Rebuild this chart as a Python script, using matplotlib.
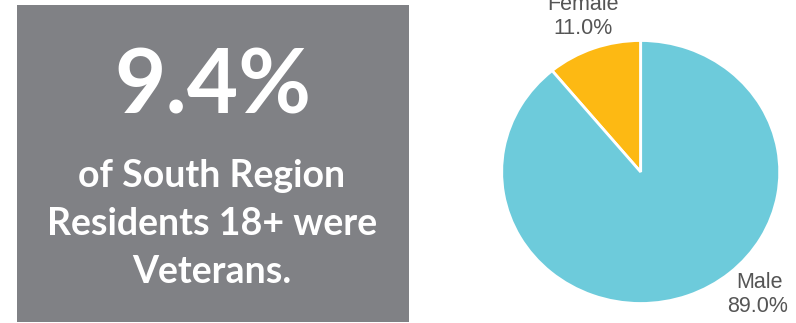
import matplotlib
matplotlib.use("Agg")
import matplotlib.pyplot as plt
from matplotlib.patches import Rectangle

# Data
big_stat = "9.4%"
stat_lines = ["of South Region", "Residents 18+ were", "Veterans."]
categories = ["Female", "Male"]
shares = [11.0, 89.0]
colors = ["#FDB913", "#6DCBDB"]

W, H = 796, 323
fig = plt.figure(figsize=(W / 100, H / 100), dpi=100)
fig.patch.set_facecolor("white")

# Left gray panel
bg = fig.add_axes([0, 0, 1, 1])
bg.set_xlim(0, W)
bg.set_ylim(H, 0)
bg.axis("off")
bg.add_patch(Rectangle((17, 5), 392, 317, facecolor="#808185", edgecolor="none"))
bg.text(213, 88, big_stat, ha="center", va="center", color="white",
        fontsize=64, fontweight="bold", family=["Lato", "DejaVu Sans"])
for i, line in enumerate(stat_lines):
    bg.text(212, 176 + i * 48, line, ha="center", va="center", color="white",
            fontsize=27, fontweight="bold", family=["Lato", "DejaVu Sans"])

# Pie
cx, cy, rx, ry = 640.7, 172, 139, 131.5
ax = fig.add_axes([(cx - rx) / W, 1 - (cy + ry) / H, 2 * rx / W, 2 * ry / H])
ax.pie(shares, colors=colors, startangle=90, counterclock=True,
       wedgeprops=dict(edgecolor="white", linewidth=2))
ax.set_aspect("auto")
ax.set_xlim(-1, 1)
ax.set_ylim(-1, 1)
ax.axis("off")

lab_font = dict(color="#555555", fontsize=15.5, family=["Liberation Sans", "DejaVu Sans"],
                ha="center", va="center")
bg.text(583, 5, categories[0], **lab_font)
bg.text(583, 29, f"{shares[0]:.1f}%", **lab_font)
bg.text(759, 283, categories[1], **lab_font)
bg.text(758, 306, f"{shares[1]:.1f}%", **lab_font)

fig.savefig("out.png", dpi=100)
